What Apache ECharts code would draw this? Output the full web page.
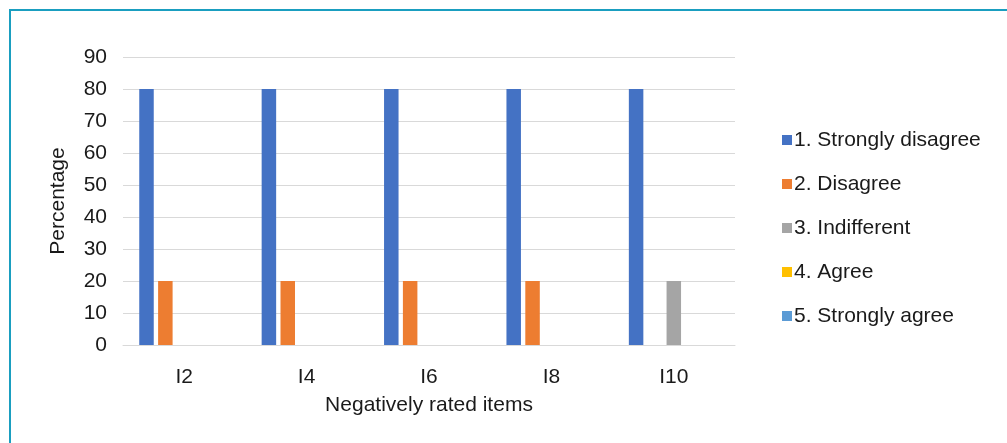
<!DOCTYPE html>
<html>
<head>
<meta charset="utf-8">
<script src="https://cdn.jsdelivr.net/npm/echarts@6/dist/echarts.min.js"></script>
<style>
  html, body { margin: 0; padding: 0; background: #fff; }
  #chart { width: 1007px; height: 443px; }
</style>
</head>
<body>
<div id="chart"></div>
<script>
// Items rated negatively, percentage of respondents per answer level
const categories = ['I2', 'I4', 'I6', 'I8', 'I10'];
const seriesNames = ['1. Strongly disagree', '2. Disagree', '3. Indifferent', '4. Agree', '5. Strongly agree'];
const stronglyDisagree = [80, 80, 80, 80, 80];
const disagree = [20, 20, 20, 20, 0];
const indifferent = [0, 0, 0, 0, 20];
const agree = [0, 0, 0, 0, 0];
const stronglyAgree = [0, 0, 0, 0, 0];
const yTicks = [0, 10, 20, 30, 40, 50, 60, 70, 80, 90];
const colors = ['#4472C4', '#ED7D31', '#A5A5A5', '#FFC000', '#5B9BD5'];

const values = [stronglyDisagree, disagree, indifferent, agree, stronglyAgree];
const font = '"Liberation Sans", Arial, sans-serif';
const textColor = '#1a1a1a';
const fs = 21;

const chart = echarts.init(document.getElementById('chart'), null, { renderer: 'canvas' });
chart.setOption({
  animation: false,
  color: colors,
  textStyle: { fontFamily: font },
  graphic: [
    { type: 'rect', shape: { x: 9, y: 9, width: 998, height: 2 }, style: { fill: '#1a9ec0' } },
    { type: 'rect', shape: { x: 9, y: 9, width: 2, height: 434 }, style: { fill: '#1a9ec0' } }
  ],
  grid: { left: 123, right: 272, top: 57, bottom: 98 },
  legend: {
    orient: 'vertical',
    left: 777,
    top: 123,
    itemWidth: 10,
    itemHeight: 10,
    itemGap: 20,
    icon: 'rect',
    textStyle: { fontSize: fs, lineHeight: 24, color: textColor, fontFamily: font, padding: [0, 0, 0, -3] },
    data: seriesNames
  },
  xAxis: {
    type: 'category',
    data: categories,
    name: 'Negatively rated items',
    nameLocation: 'middle',
    nameGap: 50,
    nameTextStyle: { fontSize: fs, color: textColor },
    axisLine: { show: true, lineStyle: { color: '#d9d9d9', width: 1 } },
    axisTick: { show: false },
    axisLabel: { fontSize: fs, color: textColor, margin: 22 }
  },
  yAxis: {
    type: 'value',
    min: yTicks[0],
    max: yTicks[yTicks.length - 1],
    interval: yTicks[1] - yTicks[0],
    name: 'Percentage',
    nameLocation: 'middle',
    nameGap: 54,
    nameTextStyle: { fontSize: fs, color: textColor },
    axisLine: { show: false },
    axisTick: { show: false },
    axisLabel: { fontSize: fs, color: textColor, margin: 16 },
    splitLine: { lineStyle: { color: '#d9d9d9', width: 1 } }
  },
  series: seriesNames.map((name, i) => ({
    name: name,
    type: 'bar',
    data: values[i],
    barWidth: 14.5,
    barGap: '30%',
    itemStyle: { color: colors[i] }
  }))
});
</script>
</body>
</html>
